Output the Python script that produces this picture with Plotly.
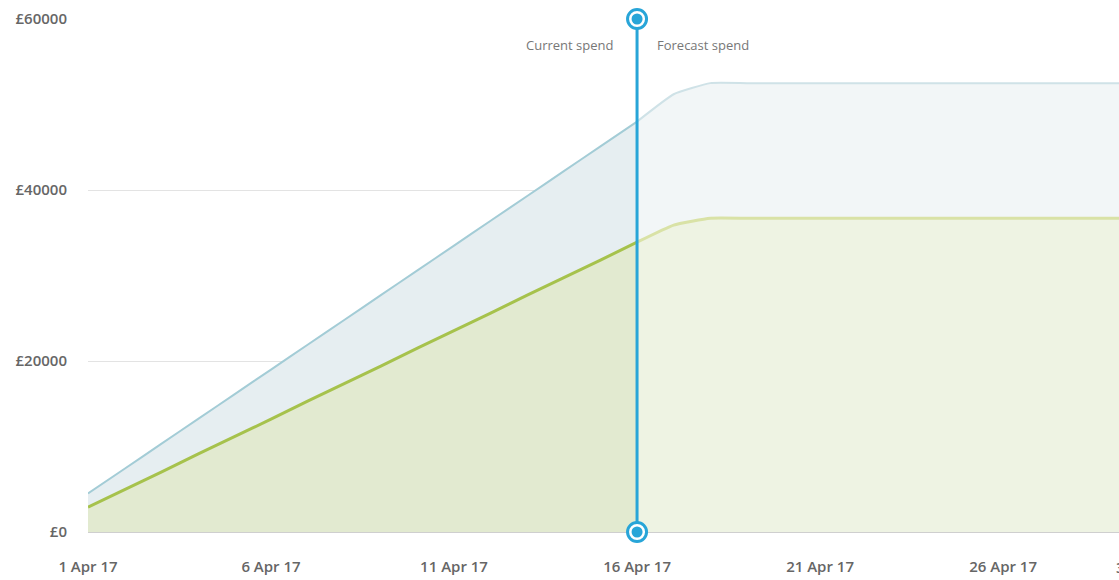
import plotly.graph_objects as go
import pandas as pd

# ---- data ----
dates = pd.date_range("2017-04-01", "2017-04-30", freq="D")
budget_spend = [4500, 7400, 10300, 13200, 16100, 19000, 21900, 24800, 27700, 30600,
                33500, 36400, 39300, 42200, 45100, 48000, 51200, 52500, 52500, 52500,
                52500, 52500, 52500, 52500, 52500, 52500, 52500, 52500, 52500, 52500]
actual_spend = [2900, 4950, 7000, 9100, 11150, 13200, 15300, 17350, 19400, 21500,
                23550, 25600, 27700, 29750, 31800, 33900, 35900, 36700, 36700, 36700,
                36700, 36700, 36700, 36700, 36700, 36700, 36700, 36700, 36700, 36700]
today = pd.Timestamp("2017-04-16")
tick_dates = ["2017-04-01", "2017-04-06", "2017-04-11", "2017-04-16", "2017-04-21", "2017-04-26"]
y_ticks = [0, 20000, 40000, 60000]
y_tick_labels = ["£0", "£20000", "£40000", "£60000"]
last_tick_label = "30 Apr 17"

x_start = pd.Timestamp("2017-04-01")
x_end = pd.Timestamp("2017-04-29 04:00")

split = 16  # index after today
cur = slice(0, split)
fc = slice(split - 1, None)

BLUE_LINE = "#a3ccd6"
BLUE_LINE_FC = "#cfe2e7"
BLUE_FILL = "#e6eef1"
BLUE_FILL_FC = "#f2f6f7"
GREEN_LINE = "#a6c24c"
GREEN_LINE_FC = "#d9e2a6"
GREEN_FILL = "#e2ead0"
GREEN_FILL_FC = "#eef3e3"
MARK = "#28a5d8"

fig = go.Figure()

def area(x, y, lc, fc_, w):
    fig.add_trace(go.Scatter(x=x, y=y, mode="lines", fill="tozeroy", fillcolor=fc_,
                             line=dict(color=lc, width=w, shape="spline", smoothing=0.4),
                             hoverinfo="skip", showlegend=False))

area(dates[fc], budget_spend[fc], BLUE_LINE_FC, BLUE_FILL_FC, 2)
area(dates[cur], budget_spend[cur], BLUE_LINE, BLUE_FILL, 2)
area(dates[fc], actual_spend[fc], GREEN_LINE_FC, GREEN_FILL_FC, 3)
area(dates[cur], actual_spend[cur], GREEN_LINE, GREEN_FILL, 3)

# today marker line
fig.add_trace(go.Scatter(x=[today, today], y=[y_ticks[0], y_ticks[-1]], mode="lines",
                         line=dict(color=MARK, width=3), hoverinfo="skip", showlegend=False,
                         cliponaxis=False))
fig.add_trace(go.Scatter(x=[today, today], y=[y_ticks[0], y_ticks[-1]], mode="markers",
                         marker=dict(size=19, color="white", line=dict(color=MARK, width=3)),
                         hoverinfo="skip", showlegend=False, cliponaxis=False))
fig.add_trace(go.Scatter(x=[today, today], y=[y_ticks[0], y_ticks[-1]], mode="markers",
                         marker=dict(size=11, color=MARK),
                         hoverinfo="skip", showlegend=False, cliponaxis=False))

lbl_font = dict(family="Open Sans", size=13, color="#777777")
fig.add_annotation(x=today, y=57000, xref="x", yref="y", text="Current spend",
                   showarrow=False, xanchor="right", xshift=-22, font=lbl_font)
fig.add_annotation(x=today, y=57000, xref="x", yref="y", text="Forecast spend",
                   showarrow=False, xanchor="left", xshift=18, font=lbl_font)

tick_font = dict(family="Open Sans", size=15, color="#666666", weight=600)

# last (cut-off) x tick label
span = (x_end - x_start).total_seconds()
pos = (pd.Timestamp("2017-04-30") - x_start).total_seconds() / span
fig.add_annotation(x=pos, y=0, xref="paper", yref="paper", yshift=-35, text=last_tick_label,
                   showarrow=False, xanchor="center", yanchor="middle", font=tick_font)

fig.update_layout(
    width=1119, height=580,
    margin=dict(l=88, r=0, t=19, b=48, autoexpand=False),
    paper_bgcolor="white", plot_bgcolor="white",
    xaxis=dict(range=[x_start, x_end], tickvals=tick_dates, tickformat="%-d %b %y",
               showgrid=False, zeroline=False, showline=False, ticks="",
               tickfont=tick_font, ticklabelstandoff=24),
    yaxis=dict(range=[0, 60000], tickvals=y_ticks, ticktext=y_tick_labels,
               showgrid=True, gridcolor="#e3e3e3", gridwidth=1,
               zeroline=True, zerolinecolor="#cfcfcf", zerolinewidth=1,
               showline=False, ticks="", tickfont=tick_font, ticklabelstandoff=20),
)

page_css = ("document.documentElement.style.overflow='hidden';"
            "document.body.style.margin='0px';"
            "document.body.style.overflow='hidden';")
fig.write_html("out.html", post_script=page_css, config={"displayModeBar": False})
